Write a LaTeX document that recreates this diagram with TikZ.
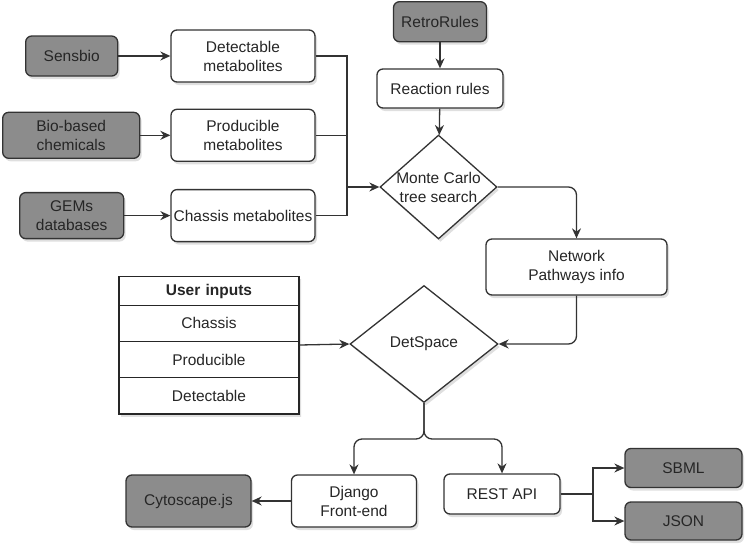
\documentclass[tikz,border=0pt]{standalone}
\usepackage{fontspec}
\setmainfont{Liberation Sans}
\usetikzlibrary{arrows.meta,positioning,shapes.geometric,shapes.multipart,shadows}

\newcommand\hdstrut{\rule[-9pt]{0pt}{28pt}}
\newcommand\rowstrut{\rule[-12pt]{0pt}{35pt}}

\begin{document}
\begin{tikzpicture}
[
x=1pt, y=-1pt,
>={Stealth[length=10pt,width=9pt]},
font=\fontsize{15.5}{19}\selectfont,
every node/.style={text=black!85},
box/.style={rectangle, rounded corners=6pt, draw=black!80, line width=1.3pt, align=center, inner sep=0, drop shadow={opacity=0.25, shadow xshift=2pt, shadow yshift=-3pt}},
source/.style={box, fill=black!45},
proc/.style={box, fill=white},
decision/.style={diamond, draw=black!80, fill=white, line width=1.3pt, inner sep=0, drop shadow={opacity=0.25, shadow xshift=2pt, shadow yshift=-3pt}},
uitable/.style={rectangle split, rectangle split parts=4, draw=black!85, fill=white, line width=1.2pt, text width=180pt, align=center, inner xsep=0, inner ysep=0, drop shadow={opacity=0.25, shadow xshift=2pt, shadow yshift=-3pt}},
link/.style={draw=black!80, line width=1.3pt}
]
\useasboundingbox (0,0) rectangle (750,552);

%Nodes
\node[proc, minimum width=144pt, minimum height=52pt]   (detect)  at (243,56)          {Detectable\\metabolites};
\node[proc, minimum width=144pt, minimum height=52pt]   (produc)  [below=26pt of detect]  {Producible\\metabolites};
\node[proc, minimum width=144pt, minimum height=52pt]   (chassis) [below=27pt of produc]  {Chassis metabolites};
\node[source, minimum width=92pt, minimum height=40pt]  (sensbio) [left=52pt of detect]   {Sensbio};
\node[source, minimum width=137pt, minimum height=46pt] (biobased) [left=30pt of produc]  {Bio-based\\chemicals};
\node[source, minimum width=104pt, minimum height=46pt] (gems)    [left=46pt of chassis]  {GEMs\\databases};

\node[proc, minimum width=126pt, minimum height=39pt]   (rrules)  at (440,88.5)        {Reaction rules};
\node[source, minimum width=93pt, minimum height=40pt]  (retro)   [above=26pt of rrules]  {RetroRules};
\node[decision, minimum width=117pt, minimum height=104pt,
      label={[align=center]center:Monte Carlo\\tree search}] (mcts) at (438.5,187) {};
\node[proc, minimum width=181pt, minimum height=56pt]   (network) at (576.5,267)       {Network\\Pathways info};

\node[uitable] (inputs) at (209,345) {\hdstrut\textbf{User inputs}\nodepart{two}\rowstrut Chassis\nodepart{three}\rowstrut Producible\nodepart{four}\rowstrut Detectable};
\node[decision, minimum width=148pt, minimum height=117pt,
      label={center:DetSpace}] (detspace) at (424,344) {};

\node[proc, minimum width=125pt, minimum height=52pt]   (django)  at (354,501)         {Django\\Front-end};
\node[proc, minimum width=116pt, minimum height=40pt]   (rest)    at (502,494)         {REST API};
\node[source, minimum width=125pt, minimum height=52pt] (cyto)    at (188.5,501)       {Cytoscape.js};
\node[source, minimum width=117pt, minimum height=39pt] (sbml)    at (683.5,468)       {SBML};
\node[source, minimum width=117pt, minimum height=38pt] (json)    at (683.5,521)       {JSON};

%Lines
\coordinate (merge) at (347,187);
\coordinate (fork) at (424,439);
\coordinate (api) at (593,494);

\draw[link,->] (sensbio) -- (detect);
\draw[link,->] (biobased) -- (produc);
\draw[link,->] (gems) -- (chassis);
\draw[link] (detect.east) -| (merge);
\draw[link] (produc.east) -| (merge);
\draw[link] (chassis.east) -| (merge);
\draw[link,->] (merge) -- (mcts.west);
\draw[link,->] (retro) -- (rrules);
\draw[link,->] (rrules) -- (mcts);
\draw[link,->,rounded corners=8pt] (mcts.east) -| (network.north);
\draw[link,->,rounded corners=8pt] (network.south) |- (detspace.east);
\draw[link,->] (inputs.east) -- (detspace.west);
\draw[link,->,rounded corners=8pt] (detspace.south) -- (fork) -| (django.north);
\draw[link,->,rounded corners=8pt] (detspace.south) -- (fork) -| (rest.north);
\draw[link,->] (django) -- (cyto);
\draw[link] (rest.east) -- (api);
\draw[link,->] (api) |- (sbml.west);
\draw[link,->] (api) |- (json.west);

\end{tikzpicture}
\end{document}
